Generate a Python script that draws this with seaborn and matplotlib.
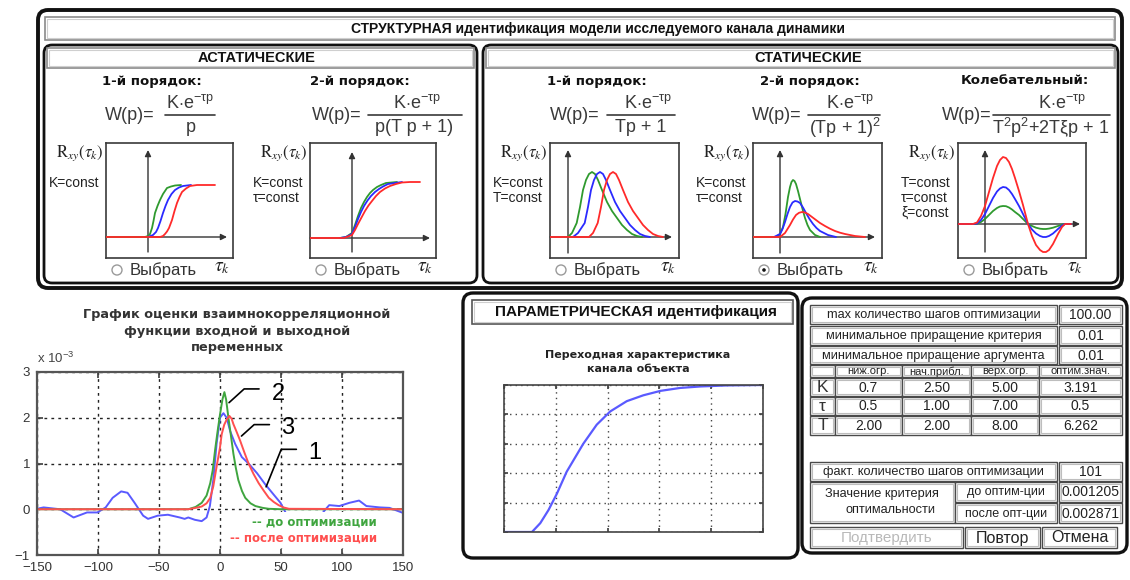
import matplotlib
matplotlib.use("Agg")
import matplotlib.pyplot as plt
import seaborn as sns
from matplotlib.patches import FancyBboxPatch, Rectangle, Circle
from matplotlib.lines import Line2D

# ============================ DATA ============================
# Cross-correlation estimate (values in units of 1e-3)
lag_measured = [-150, -144.6, -131, -120, -109, -100.5, -93.7, -88, -81, -75.8, -70, -63, -59, -51,
                -42.7, -33, -29, -26, -20.7, -15, -11, -8.3, -5.5, -2.8, 0, 2.8, 5.5, 8.3, 12.4,
                17.9, 23.4, 30.3, 37.2, 44, 49.6, 53.7, 57.9, 62, 68, 74, 79, 81.3, 85, 89.5,
                97.8, 106, 114, 120, 131, 139, 147, 150]
r_measured = [0.01, 0.04, 0.0, -0.18, -0.07, -0.07, 0.04, 0.25, 0.39, 0.36, 0.14, -0.14, -0.21, -0.14,
              -0.12, -0.18, -0.21, -0.18, -0.23, -0.26, -0.18, 0.07, 0.64, 1.43, 2.0, 2.1, 2.0, 1.71, 1.43,
              1.14, 1.0, 0.79, 0.54, 0.32, 0.14, -0.07, -0.21, -0.32, -0.40, -0.38, -0.28, -0.21, -0.05, 0.09,
              0.07, 0.14, 0.19, 0.07, 0.04, 0.03, -0.05, -0.08]
lag_before = [-150, -26, -20, -15, -11, -8, -6, -4, -2, 0, 2, 3.6, 5, 6.9, 9, 11, 13, 15, 18, 20.7,
              25, 29, 35, 40, 50, 150]
r_before = [0, 0, 0.05, 0.14, 0.3, 0.57, 0.85, 1.3, 1.7, 2.07, 2.4, 2.56, 2.4, 2.0, 1.6, 1.21, 0.9,
            0.64, 0.4, 0.25, 0.13, 0.07, 0.03, 0.01, 0, 0]
lag_after = [-150, -26, -20, -15, -11, -8, -5.5, -2.8, 0, 1.4, 3.5, 5.5, 7.7, 9.5, 11, 13.5, 16.5, 20,
             23.4, 27.5, 31.7, 36, 40, 44, 48, 52, 56.5, 150]
r_after = [0, 0, 0.03, 0.06, 0.13, 0.25, 0.5, 0.93, 1.35, 1.64, 1.85, 1.96, 2.04, 1.98, 1.86, 1.7, 1.5,
           1.24, 1.0, 0.77, 0.57, 0.4, 0.25, 0.16, 0.09, 0.04, 0.01, 0]
lag_ticks = [-150, -100, -50, 0, 50, 100, 150]
r_ticks = [-1, 0, 1, 2, 3]
callout_names = ["2", "3", "1"]
callout_x = [[7.4, 19.8, 32.0], [17.6, 28.0, 40.5], [37.8, 50.2, 62.6]]
callout_y = [[2.33, 2.63, 2.63], [1.60, 1.85, 1.85], [0.49, 1.31, 1.31]]
callout_text_xy = [(47.9, 2.51), (55.6, 1.78), (77.7, 1.24)]

# Transient response of the identified channel
step_time = [0, 5.4, 7.0, 8.6, 10.2, 12.1, 15.3, 17.9, 20.5, 23.7, 26.9, 30.2, 34.0, 37.9, 43.0, 50]
step_value = [0, 0, 0.06, 0.15, 0.26, 0.41, 0.60, 0.73, 0.82, 0.89, 0.93, 0.96, 0.98, 0.99, 0.997, 1.0]

# Schematic correlation functions (arbitrary units)
ast1_t_g = [-4.2, -0.3, 0, 0.2, 0.4, 0.55, 0.7, 0.95, 1.2, 1.5, 1.9, 2.3, 2.7, 3.3]
ast1_r_g = [0, 0, 0.1, 0.3, 0.9, 1.6, 2.4, 3.1, 3.7, 4.3, 4.9, 5.05, 5.15, 5.2]
ast1_t_b = [0, 0.5, 0.8, 1.0, 1.25, 1.5, 1.75, 2.0, 2.35, 2.7, 3.1, 3.5, 4.3]
ast1_r_b = [0, 0.2, 0.5, 0.9, 1.6, 2.4, 3.1, 3.7, 4.3, 4.7, 4.95, 5.1, 5.2]
ast1_t_r = [-4.2, 1.2, 1.5, 1.7, 1.9, 2.1, 2.4, 2.65, 2.9, 3.15, 3.4, 3.8, 4.2, 4.9, 6.7]
ast1_r_r = [0, 0, 0.1, 0.3, 0.55, 0.9, 1.7, 2.6, 3.4, 4.0, 4.5, 4.85, 5.1, 5.2, 5.2]

ast2_t_g = [-1.2, -0.6, 0, 0.3, 0.6, 0.9, 1.2, 1.5, 1.8, 2.1, 2.5, 2.9, 3.4, 4.5]
ast2_r_g = [0, 0.1, 0.5, 1.3, 2.2, 3.0, 3.6, 4.1, 4.5, 4.8, 5.1, 5.3, 5.5, 5.6]
ast2_t_b = [-1.2, -0.6, 0, 0.3, 0.6, 0.9, 1.2, 1.55, 1.9, 2.3, 2.7, 3.1, 3.6, 5.0]
ast2_r_b = [0, 0.1, 0.4, 1.1, 1.9, 2.6, 3.2, 3.75, 4.2, 4.6, 4.9, 5.15, 5.4, 5.6]
ast2_t_r = [-4.2, -0.8, 0, 0.3, 0.6, 0.95, 1.3, 1.65, 2.0, 2.4, 2.8, 3.3, 3.8, 4.4, 5.0, 5.8, 6.8]
ast2_r_r = [0, 0, 0.3, 0.8, 1.4, 2.05, 2.7, 3.25, 3.7, 4.2, 4.6, 4.95, 5.2, 5.4, 5.55, 5.6, 5.6]

st1_t_g = [0, 0.4, 0.87, 1.2, 1.5, 1.8, 2.1, 2.4, 2.7, 3.0, 3.4, 3.9, 4.4, 4.9, 5.4, 5.9, 6.4, 6.9, 7.4]
st1_r_g = [0, 0.4, 1.4, 3.0, 4.7, 5.7, 6.3, 6.5, 6.3, 5.7, 4.7, 3.5, 2.6, 1.9, 1.2, 0.7, 0.3, 0.1, 0]
st1_t_b = [0.5, 1.0, 1.67, 2.0, 2.3, 2.6, 2.9, 3.2, 3.5, 3.8, 4.2, 4.7, 5.2, 5.7, 6.2, 6.7, 7.2, 7.7, 8.2]
st1_r_b = [0, 0.4, 1.4, 3.0, 4.7, 5.7, 6.3, 6.5, 6.3, 5.7, 4.7, 3.5, 2.6, 1.9, 1.2, 0.7, 0.3, 0.1, 0]
st1_t_r = [-1.8, 2.1, 2.5, 2.97, 3.3, 3.6, 3.9, 4.2, 4.5, 4.8, 5.1, 5.5, 6.0, 6.5, 7.0, 7.5, 8.0, 8.5,
           9.0, 9.5]
st1_r_r = [0, 0, 0.4, 1.4, 3.0, 4.7, 5.7, 6.3, 6.5, 6.3, 5.7, 4.7, 3.5, 2.6, 1.9, 1.2, 0.7, 0.3, 0.1, 0]

st2_t_g = [-2.7, -0.4, 0, 0.3, 0.55, 0.8, 1.0, 1.15, 1.3, 1.45, 1.6, 1.8, 2.0, 2.25, 2.5, 2.75, 3.0,
           3.5, 4.0]
st2_r_g = [0, 0, 0.3, 1.0, 2.3, 4.0, 5.0, 5.5, 5.7, 5.6, 5.3, 4.6, 3.8, 2.8, 1.9, 1.2, 0.7, 0.2, 0]
st2_t_b = [-0.6, 0, 0.25, 0.5, 0.75, 1.0, 1.25, 1.5, 1.75, 2.0, 2.3, 2.6, 2.95, 3.3, 3.65, 4.0, 4.8, 5.6]
st2_r_b = [0, 0.3, 0.8, 1.5, 2.3, 3.0, 3.45, 3.6, 3.55, 3.4, 2.95, 2.4, 1.8, 1.3, 0.9, 0.6, 0.2, 0]
st2_t_r = [-2.7, 0, 0.5, 1.0, 1.3, 1.6, 1.9, 2.2, 2.5, 2.8, 3.2, 3.6, 4.0, 4.5, 5.0, 5.5, 6.0, 6.5,
           7.5, 8.5]
st2_r_r = [0, 0, 0.4, 1.2, 1.75, 2.2, 2.42, 2.5, 2.45, 2.3, 2.0, 1.7, 1.4, 1.1, 0.83, 0.6, 0.43, 0.3,
           0.1, 0]

osc_t = [-2.7, -1.2, -0.8, -0.4, 0, 0.4, 0.8, 1.2, 1.5, 1.8, 2.1, 2.4, 2.7, 3.0, 3.4, 3.8, 4.3, 4.7,
         5.1, 5.5, 5.8, 6.1, 6.4, 6.8, 7.3, 7.7, 8.0, 8.6]
osc_r_g = [0, 0, 0.03, 0.2, 0.5, 0.9, 1.3, 1.6, 1.75, 1.8, 1.78, 1.65, 1.45, 1.2, 0.9, 0.5, 0, -0.2,
           -0.37, -0.47, -0.5, -0.5, -0.46, -0.37, -0.2, -0.06, 0, 0]
osc_r_b = [0, 0, 0.05, 0.4, 1.0, 1.8, 2.6, 3.25, 3.55, 3.7, 3.65, 3.4, 3.0, 2.5, 1.8, 1.0, 0, -0.55,
           -0.95, -1.2, -1.3, -1.3, -1.2, -0.95, -0.5, -0.15, 0, 0]
osc_r_r = [0, 0, 0.15, 0.8, 1.8, 3.2, 4.6, 5.8, 6.4, 6.7, 6.6, 6.2, 5.5, 4.6, 3.3, 1.9, 0, -1.2,
           -2.1, -2.6, -2.8, -2.8, -2.6, -2.0, -1.0, -0.3, 0, 0]

# Table contents
opt_settings = ["max количество шагов оптимизации", "минимальное приращение критерия",
                "минимальное приращение аргумента"]
opt_settings_values = ["100.00", "0.01", "0.01"]
param_columns = ["ниж.огр.", "нач.прибл.", "верх.огр.", "оптим.знач."]
param_names = ["K", "τ", "T"]
param_lower = ["0.7", "0.5", "2.00"]
param_initial = ["2.50", "1.00", "2.00"]
param_upper = ["5.00", "7.00", "8.00"]
param_optimal = ["3.191", "0.5", "6.262"]
steps_done = "101"
criterion_before = "0.001205"
criterion_after = "0.002871"

# ============================ STYLE ============================
sns.set_theme(style="white")
plt.rcParams["font.family"] = ["Liberation Sans", "DejaVu Sans"]
plt.rcParams["mathtext.fontset"] = "custom"
plt.rcParams["mathtext.rm"] = "Liberation Sans"
plt.rcParams["mathtext.it"] = "Liberation Sans"
plt.rcParams["mathtext.bf"] = "Liberation Sans:bold"

W, H = 1130, 580
fig = plt.figure(figsize=(11.3, 5.8), dpi=100)
fig.patch.set_facecolor("white")
bg = fig.add_axes([0, 0, 1, 1], zorder=0)
bg.set_xlim(0, W)
bg.set_ylim(H, 0)
bg.axis("off")

G_S, B_S, R_S = "#2f9a2f", "#2a2aff", "#ff2a2a"
G_L, B_L, R_L = "#3fa53f", "#5a5aff", "#ff4f4f"
FORM = "#3a3a3a"


def px_axes(l, t, r, b, z=3):
    return fig.add_axes([l / W, 1 - b / H, (r - l) / W, (b - t) / H], zorder=z)


def rframe(l, t, r, b, lw=2.2, rad=9):
    bg.add_patch(FancyBboxPatch((l, t), r - l, b - t, boxstyle=f"round,pad=0,rounding_size={rad}",
                                fc="white", ec="#111111", lw=lw))


def bar(l, t, r, b, ec="#8a8a8a"):
    bg.add_patch(Rectangle((l, t), r - l, b - t, fc="white", ec=ec, lw=1.2))
    bg.add_patch(Rectangle((l + 2, t + 2), r - l - 4, b - t - 4, fc="none", ec="#cfcfcf", lw=0.8))


# ---------------- Structural identification frame ----------------
rframe(38, 10, 1122, 288, lw=2.8, rad=10)
bar(45, 17, 1115, 40)
bg.text(598, 29, "СТРУКТУРНАЯ идентификация модели исследуемого канала динамики",
        ha="center", va="center", fontsize=10, fontweight="bold", color="#111")
rframe(44, 45, 477, 283, lw=2.0, rad=8)
rframe(483, 45, 1118, 283, lw=2.0, rad=8)
bar(47, 48, 474, 68)
bar(486, 48, 1115, 68)
bg.text(257, 58, "АСТАТИЧЕСКИЕ", ha="center", va="center", fontsize=10.5, fontweight="bold", color="#111")
bg.text(808, 58, "СТАТИЧЕСКИЕ", ha="center", va="center", fontsize=10.5, fontweight="bold", color="#111")

schemes = [
    dict(box=(106, 143, 233, 258), origin=(148, 237), h_end=227, v_span=(252, 150),
         curves=[(ast1_t_g, ast1_r_g, G_S), (ast1_t_b, ast1_r_b, B_S), (ast1_t_r, ast1_r_r, R_S)],
         sym="τ", consts=["K=const"], title="1-й порядок:", title_x=152,
         wp_x=105, line=(165, 215), num_x=190, den_x=191, den="p", selected=False),
    dict(box=(310, 143, 436, 258), origin=(352, 238), h_end=430, v_span=(252, 152),
         curves=[(ast2_t_g, ast2_r_g, G_S), (ast2_t_b, ast2_r_b, B_S), (ast2_t_r, ast2_r_r, R_S)],
         sym="T", consts=["K=const", "τ=const"], title="2-й порядок:", title_x=360,
         wp_x=312, line=(368, 462), num_x=417, den_x=414, den="p(T p + 1)", selected=False),
    dict(box=(550, 143, 679, 258), origin=(568, 237), h_end=672, v_span=(253, 150),
         curves=[(st1_t_g, st1_r_g, G_S), (st1_t_b, st1_r_b, B_S), (st1_t_r, st1_r_r, R_S)],
         sym="τ", consts=["K=const", "T=const"], title="1-й порядок:", title_x=597,
         wp_x=550, line=(607, 675), num_x=648, den_x=641, den="Tp + 1", selected=False),
    dict(box=(753, 143, 882, 258), origin=(780, 237), h_end=875, v_span=(253, 150),
         curves=[(st2_t_g, st2_r_g, G_S), (st2_t_b, st2_r_b, B_S), (st2_t_r, st2_r_r, R_S)],
         sym="T", consts=["K=const", "τ=const"], title="2-й порядок:", title_x=810,
         wp_x=752, line=(808, 880), num_x=850, den_x=845, den=r"(Tp + 1)$^{2}$", selected=True),
    dict(box=(958, 143, 1086, 258), origin=(985, 224), h_end=1080, v_span=(252, 150),
         curves=[(osc_t, osc_r_g, G_S), (osc_t, osc_r_b, B_S), (osc_t, osc_r_r, R_S)],
         sym="K", consts=["T=const", "τ=const", "ξ=const"], title="Колебательный:", title_x=1025,
         wp_x=942, line=(993, 1110), num_x=1062, den_x=1051, den=r"T$^{2}$p$^{2}$+2T$\xi$p + 1",
         selected=False),
]

for s in schemes:
    l, t, r, b = s["box"]
    ox, oy = s["origin"]
    ax = px_axes(l, t, r, b)
    for xs, ys, c in s["curves"]:
        sns.lineplot(x=xs, y=ys, ax=ax, color=c, linewidth=1.3, sort=False, estimator=None,
                     legend=False, zorder=3)
    ax.set_xlim((l - ox) / 10, (r - ox) / 10)
    ax.set_ylim((oy - b) / 10, (oy - t) / 10)
    ax.set_xticks([])
    ax.set_yticks([])
    ax.set_xlabel("")
    ax.set_ylabel("")
    ax.set_facecolor("white")
    for sp in ax.spines.values():
        sp.set_visible(True)
        sp.set_color("#3a3a3a")
        sp.set_linewidth(1.2)
    ap = dict(arrowstyle="-|>", color="#333333", lw=1.0, mutation_scale=9, shrinkA=0, shrinkB=0)
    ax.annotate("", xy=((s["h_end"] - ox) / 10, 0), xytext=((l - ox) / 10, 0), arrowprops=ap, zorder=1)
    ax.annotate("", xy=(0, (oy - s["v_span"][1]) / 10), xytext=(0, (oy - s["v_span"][0]) / 10),
                arrowprops=ap, zorder=1)
    # colored legend "x < x < x"
    R = r - 14
    for dx, txt, c in [(36, s["sym"], G_S), (27, "<", "#777"), (18, s["sym"], B_S), (9, "<", "#777"),
                       (0, s["sym"], R_S)]:
        bg.text(R - dx, 156, txt, ha="center", va="center", color=c,
                fontsize=9.5 if txt != "<" else 7, fontweight="bold", zorder=5)
    # axis label
    bg.text(l - 2, 153, r"$\mathrm{R}_{xy}(\tau_k)$", ha="right", va="center", fontsize=12,
            math_fontfamily="stix", color="#222")
    for i, ctext in enumerate(s["consts"]):
        bg.text(l - 57, 183 + 15 * i, ctext, ha="left", va="center", fontsize=10, color="#222")
    # radio + label
    bg.add_patch(Circle((l + 11, 270), 5, fc="white", ec="#9a9a9a", lw=1.0))
    if s["selected"]:
        bg.add_patch(Circle((l + 11, 270), 1.8, fc="#111", ec="none"))
    bg.text(l + 24, 270, "Выбрать", ha="left", va="center", fontsize=12, color="#333")
    bg.text(r - 11, 268, r"$\tau_k$", ha="center", va="center", fontsize=14, math_fontfamily="stix",
            color="#222")
    # title and transfer function
    bg.text(s["title_x"], 81, s["title"], ha="center", va="center", fontsize=9.5, fontweight="bold",
            family=["DejaVu Sans"], color="#111")
    bg.text(s["wp_x"], 116, "W(p)=", ha="left", va="center", fontsize=13, color=FORM)
    bg.plot(list(s["line"]), [115, 115], color=FORM, lw=1.2)
    bg.text(s["num_x"], 103, r"K$\cdot$e$^{-\tau p}$", ha="center", va="center", fontsize=13, color=FORM)
    bg.text(s["den_x"], 128, s["den"], ha="center", va="center", fontsize=13, color=FORM)

# ---------------- Cross-correlation plot ----------------
axc = px_axes(37, 372, 403, 555)
sns.lineplot(x=lag_measured, y=r_measured, ax=axc, color=B_L, linewidth=1.4, sort=False,
             estimator=None, legend=False)
sns.lineplot(x=lag_before, y=r_before, ax=axc, color=G_L, linewidth=1.4, sort=False,
             estimator=None, legend=False)
sns.lineplot(x=lag_after, y=r_after, ax=axc, color=R_L, linewidth=1.4, sort=False,
             estimator=None, legend=False)
axc.set_xlim(-150, 150)
axc.set_ylim(-1, 3)
axc.set_xticks(lag_ticks)
axc.set_yticks(r_ticks)
axc.set_xlabel("")
axc.set_ylabel("")
axc.grid(True, color="#222", linestyle=(0, (2, 3)), linewidth=1.0)
axc.tick_params(direction="in", length=4, labelsize=9.5, labelcolor="#333", colors="#444",
                left=True, bottom=True, top=True, right=True)
axc.tick_params(axis="x", pad=5)
axc.tick_params(axis="y", pad=5)
for sp in axc.spines.values():
    sp.set_color("#555")
    sp.set_linewidth(1.6)
axc.text(0.0, 1.035, r"x 10$^{-3}$", transform=axc.transAxes, fontsize=9.5, color="#444",
         ha="left", va="bottom")
for name, xs, ys, (tx, ty) in zip(callout_names, callout_x, callout_y, callout_text_xy):
    axc.plot(xs, ys, color="black", lw=1.2, zorder=6)
    axc.text(tx, ty, name, ha="center", va="center", fontsize=17, color="black", zorder=6)
leg = axc.legend(handles=[Line2D([], [], color=G_L), Line2D([], [], color=R_L)],
                 labels=["-- до оптимизации", "-- после оптимизации"],
                 loc="lower right", bbox_to_anchor=(0.955, 0.005), handlelength=0, handletextpad=0,
                 markerfirst=False, labelcolor="linecolor", frameon=True, facecolor="white",
                 edgecolor="none", framealpha=1, fancybox=False, borderpad=0.3, labelspacing=0.25,
                 prop=dict(size=8.5, weight="bold", family="DejaVu Sans"))
bg.text(237, 331, "График оценки взаимнокорреляционной\nфункции входной и выходной\nпеременных",
        ha="center", va="center", fontsize=9.3, fontweight="bold", family=["DejaVu Sans"],
        color="#333", linespacing=1.35)

# ---------------- Parametric identification ----------------
rframe(463, 293, 798, 558, lw=2.4, rad=10)
bar(472, 300, 793, 324, ec="#555")
bg.text(636, 312, "ПАРАМЕТРИЧЕСКАЯ идентификация", ha="center", va="center", fontsize=11,
        fontweight="bold", color="#111")
bg.text(638, 362, "Переходная характеристика\nканала объекта", ha="center", va="center", fontsize=8,
        fontweight="bold", family=["DejaVu Sans"], color="#222", linespacing=1.45)
axs = px_axes(504, 385, 763, 532)
sns.lineplot(x=step_time, y=step_value, ax=axs, color=B_L, linewidth=1.6, sort=False,
             estimator=None, legend=False)
axs.set_xlim(0, 50)
axs.set_ylim(0, 1)
axs.set_xticks([0, 10, 20, 30, 40, 50])
axs.set_yticks([0, 0.2, 0.4, 0.6, 0.8, 1.0])
axs.set_xticklabels([])
axs.set_yticklabels([])
axs.set_xlabel("")
axs.set_ylabel("")
axs.grid(True, color="#444", linestyle=(0, (1, 3)), linewidth=1.0)
axs.tick_params(direction="in", length=3, colors="#444", left=True, bottom=True, top=True, right=True)
for sp in axs.spines.values():
    sp.set_color("#444")
    sp.set_linewidth(1.2)

# ---------------- Optimisation table ----------------
rframe(802, 298, 1127, 553, lw=2.4, rad=10)


def cell(x0, y0, x1, y1, text="", fs=9.5, color="#222"):
    bg.add_patch(Rectangle((x0, y0), x1 - x0, y1 - y0, fc="white", ec="#4a4a4a", lw=1.0))
    bg.add_patch(Rectangle((x0 + 2, y0 + 2), x1 - x0 - 4, y1 - y0 - 4, fc="none", ec="#bdbdbd", lw=0.8))
    if text:
        bg.text((x0 + x1) / 2, (y0 + y1) / 2 + 0.5, text, ha="center", va="center", fontsize=fs,
                color=color)


setting_rows = [(305, 324), (326, 345), (346, 364)]
for (y0, y1), lab, val in zip(setting_rows, opt_settings, opt_settings_values):
    cell(810, y0, 1057, y1, lab, fs=9.2)
    cell(1059, y0, 1122, y1, val, fs=10)
col_edges = [810, 835, 902, 971, 1039, 1122]
cell(col_edges[0], 365, col_edges[1], 377)
for i, name in enumerate(param_columns):
    cell(col_edges[i + 1], 365, col_edges[i + 2], 377, name, fs=8)
param_rows = [(378, 396), (397, 415), (416, 435)]
for j, (y0, y1) in enumerate(param_rows):
    cell(col_edges[0], y0, col_edges[1], y1, param_names[j], fs=12.5, color="#333")
    for i, vals in enumerate([param_lower, param_initial, param_upper, param_optimal]):
        cell(col_edges[i + 1], y0, col_edges[i + 2], y1, vals[j], fs=10)
cell(810, 462, 1057, 481, "факт. количество шагов оптимизации", fs=9.2)
cell(1059, 462, 1122, 481, steps_done, fs=10)
cell(810, 482, 955, 523)
bg.text(882, 494, "Значение критерия", ha="center", va="center", fontsize=9.2, color="#222")
bg.text(890, 510, "оптимальности", ha="center", va="center", fontsize=9.2, color="#222")
cell(955, 482, 1057, 502, "до оптим-ции", fs=9)
cell(1059, 482, 1122, 502, criterion_before, fs=10)
cell(955, 503, 1057, 523, "после опт-ции", fs=9)
cell(1059, 503, 1122, 523, criterion_after, fs=10)
cell(810, 527, 963, 548, "Подтвердить", fs=11, color="#b9b9b9")
cell(965, 527, 1040, 548, "Повтор", fs=11.5, color="#222")
cell(1042, 527, 1117, 548, "Отмена", fs=11.5, color="#222")

fig.savefig("out.png", dpi=100, facecolor="white")
